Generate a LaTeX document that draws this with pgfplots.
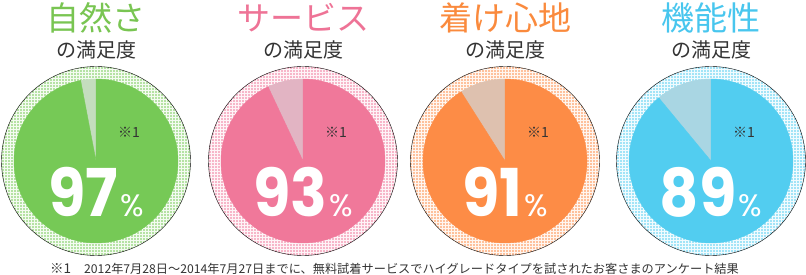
\documentclass[border=0pt]{standalone}
\usepackage{graphicx}
\usepackage{pgfplots}
\pgfplotsset{compat=1.18}
\usepackage{fontspec}
\usetikzlibrary{patterns.meta}
\newfontfamily\jpfont{Noto Sans CJK JP}
\newfontfamily\numfont{Poppins}

% slice, remainder and dotted-ring colours per question
\definecolor{gMain}{HTML}{76C956}\definecolor{gRest}{HTML}{C4DDBE}\definecolor{gTitle}{HTML}{79C552}
\definecolor{pMain}{HTML}{F0789A}\definecolor{pRest}{HTML}{E2B4C3}\definecolor{pTitle}{HTML}{EE7396}
\definecolor{oMain}{HTML}{FD8C46}\definecolor{oRest}{HTML}{DEC1AF}\definecolor{oTitle}{HTML}{FA8A3D}
\definecolor{bMain}{HTML}{52CDF0}\definecolor{bRest}{HTML}{A9D6E3}\definecolor{bTitle}{HTML}{48C6EE}
\definecolor{ink}{HTML}{333333}

\pgfplotsset{
  % one pie per data point: the value column sets the slice and the label
  pie/.style n args={2}{
    scatter, only marks, mark=*, mark size=0.01pt,
    mark options={draw opacity=0, fill opacity=0},
    visualization depends on={value \thisrow{value} \as \pval},
    scatter/@pre marker code/.code={
      \begin{scope}[opacity=1, draw opacity=1, fill opacity=1, text opacity=1]
      \fill[#1!8] (0,0) circle[radius=95pt];
      \fill[pattern={Dots[distance=3pt,radius=0.85pt]}, pattern color=#1, even odd rule]
        (0,0) circle[radius=94.5pt] circle[radius=81pt];
      \fill[#2] (0,0) -- (90:82pt) arc[start angle=90, delta angle={3.6*(100-\pval)}, radius=82pt] -- cycle;
      \fill[#1] (0,0) -- (90:82pt) arc[start angle=90, delta angle={-3.6*\pval}, radius=82pt] -- cycle;
      \node[text=ink, font=\jpfont\fontsize{14}{14}\selectfont] at (33pt,29pt) {※1};
      \node[text=white, anchor=base, inner sep=0pt] at (0pt,-56pt)
        {\numfont\bfseries\scalebox{0.92}[1]{\fontsize{66}{66}\selectfont\pval}%
         \hspace{2pt}{\fontseries{m}\fontsize{31}{31}\selectfont\%}};
      \end{scope}
    },
    scatter/@post marker code/.code={},
  },
}
\tikzset{
  jptitle/.style={font=\jpfont\fontsize{33}{33}\selectfont, inner sep=0pt},
  jpsub/.style={font=\jpfont\fontsize{20}{20}\selectfont, text=ink, inner sep=0pt},
}

\begin{document}
\begin{tikzpicture}
\begin{axis}[x=1pt, y=1pt, xmin=0, xmax=806, ymin=0, ymax=275,
  hide axis, clip=false, scale only axis]

\addplot[pie={gMain}{gRest}] table {
x y value
96 114 97
};
\addplot[pie={pMain}{pRest}] table {
x y value
303 114 93
};
\addplot[pie={oMain}{oRest}] table {
x y value
505 114 91
};
\addplot[pie={bMain}{bRest}] table {
x y value
711 114 89
};

\node[jptitle, text=gTitle] at (axis cs:96,257) {自然さ};
\node[jptitle, text=pTitle] at (axis cs:303,257) {サービス};
\node[jptitle, text=oTitle] at (axis cs:505,257) {着け心地};
\node[jptitle, text=bTitle] at (axis cs:711,257) {機能性};
\node[jpsub] at (axis cs:96,225) {の満足度};
\node[jpsub] at (axis cs:303,225) {の満足度};
\node[jpsub] at (axis cs:505,225) {の満足度};
\node[jpsub] at (axis cs:711,225) {の満足度};

\node[anchor=west, inner sep=0pt, text=ink, font=\jpfont\fontsize{12.2}{12.2}\selectfont]
  at (axis cs:50,6) {{\fontsize{13.5}{13.5}\selectfont※1}\hspace{13pt}2012年7月28日～2014年7月27日までに、無料試着サービスでハイグレードタイプを試されたお客さまのアンケート結果};
\end{axis}
\pgfresetboundingbox
\path (current axis.south west) rectangle (current axis.north east);
\end{tikzpicture}
\end{document}
